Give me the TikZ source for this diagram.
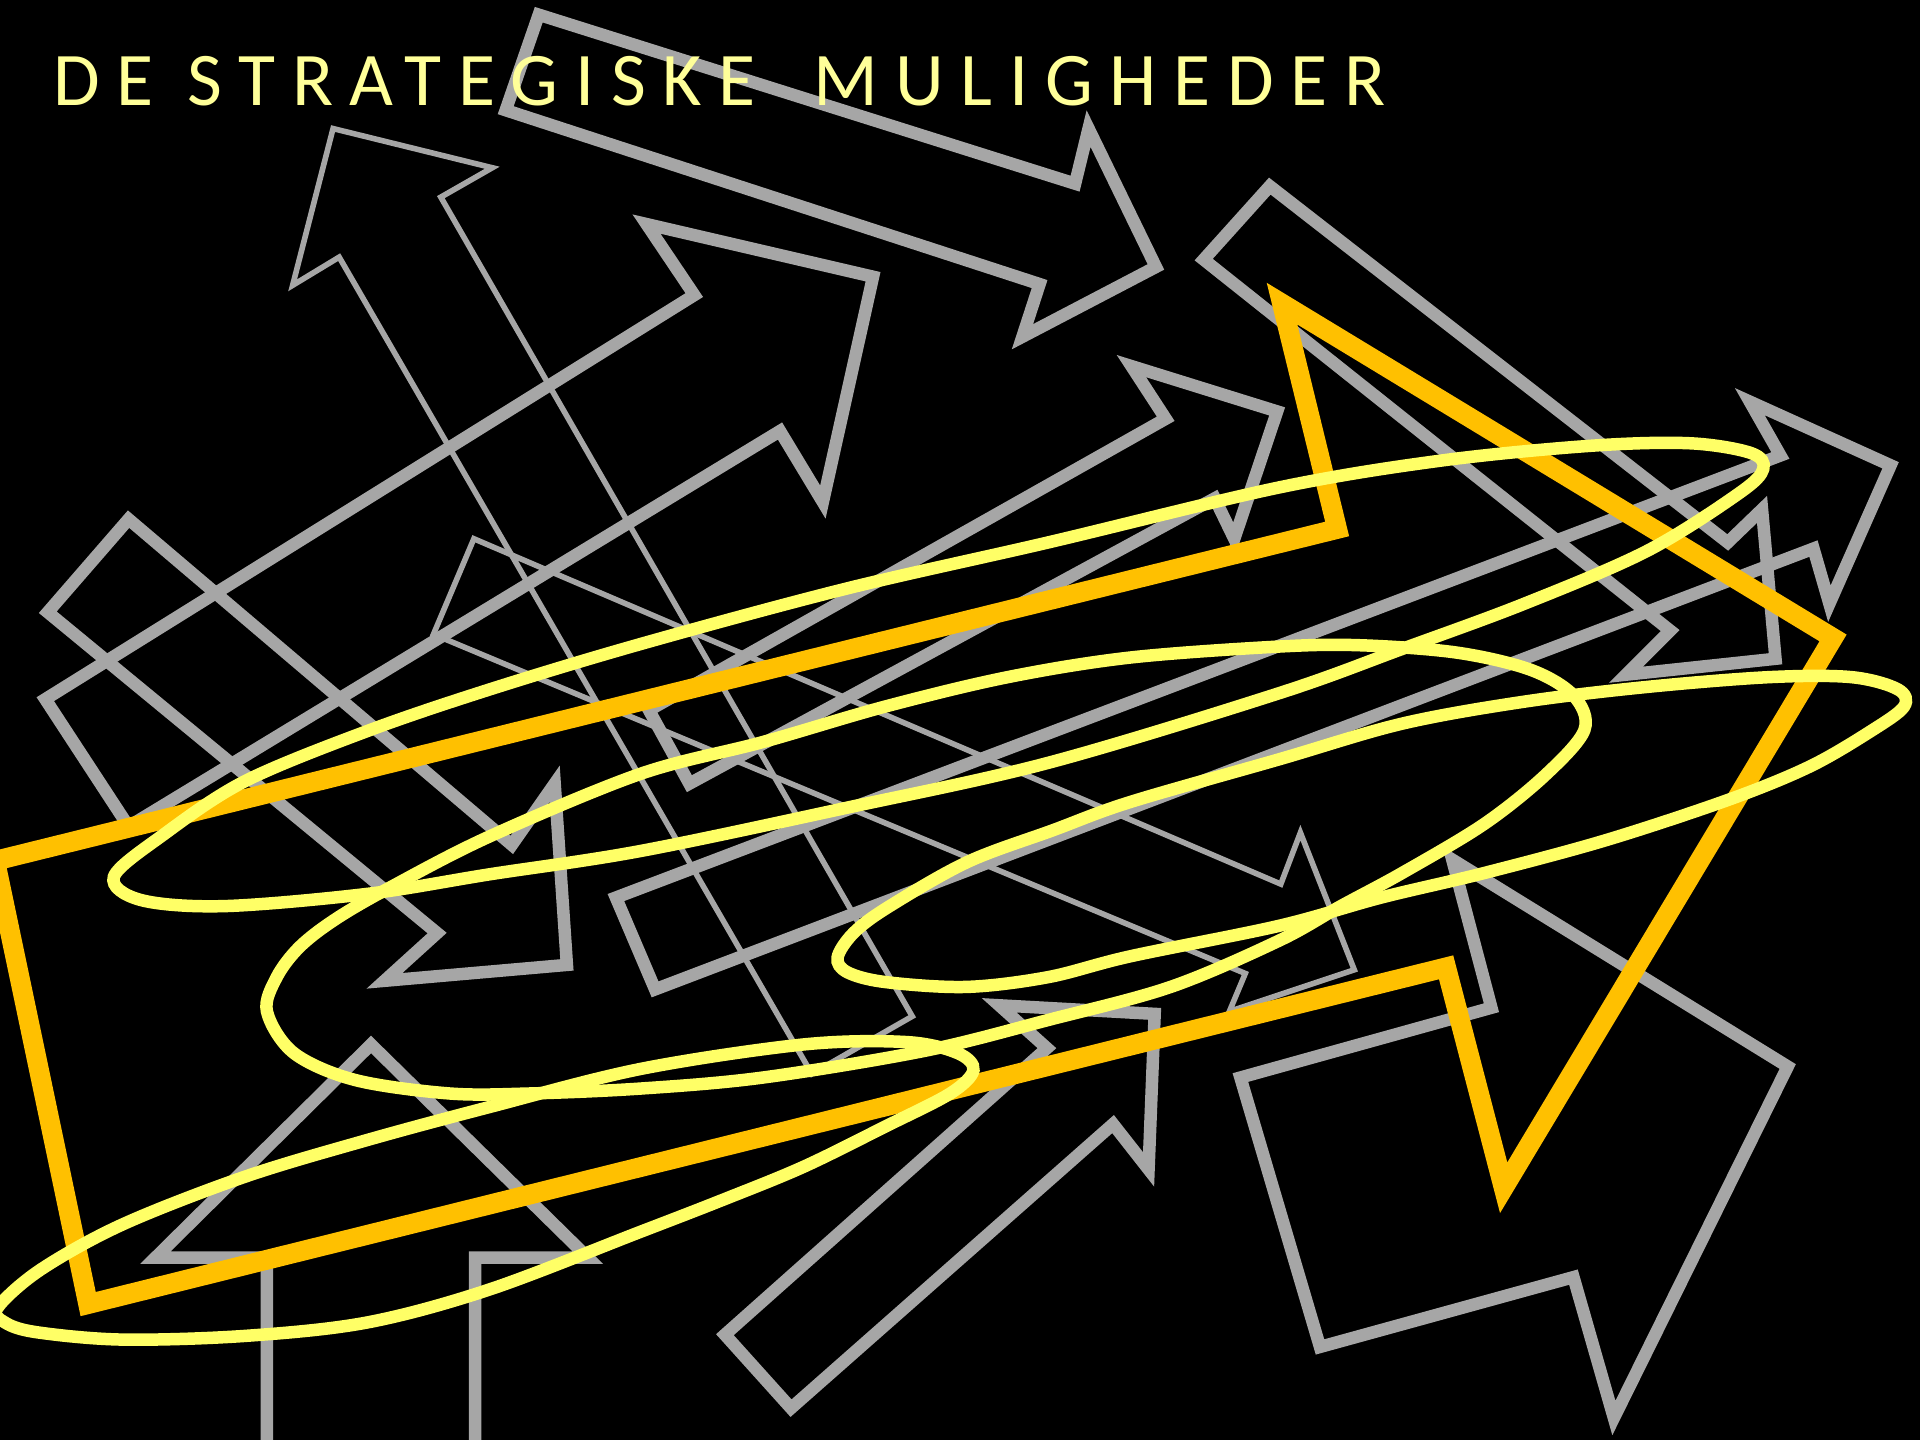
\documentclass[tikz,border=0pt]{standalone}
\usepackage{fontspec}
\newfontfamily\titlefont{Carlito}[LetterSpace=22]
\definecolor{arrowgray}{HTML}{A6A6A6}
\definecolor{bigorange}{HTML}{FFC000}
\definecolor{scribble}{HTML}{FFFF66}
\definecolor{titleyellow}{HTML}{FFFF99}

\begin{document}
\begin{tikzpicture}[x=0.01cm, y=-0.01cm,
    grayarrow/.style={draw=arrowgray, line width=2.9pt, line join=miter},
    thinarrow/.style={draw=arrowgray, line width=1.3pt, line join=miter},
    bigarrow/.style={draw=bigorange, line width=4.6pt, line join=miter},
    scribbleline/.style={draw=scribble, line width=2.9pt},
    heading/.style={anchor=base west, inner sep=0pt, text=titleyellow, font=\titlefont\fontsize{17.6pt}{20pt}\selectfont}
]
    % Background
    \fill[black] (0,0) rectangle (1568,1176);
    \clip (0,0) rectangle (1568,1176);

    % Grey arrows
    \draw[grayarrow] (440,12) -- (878,150) -- (889,105) -- (944,218) -- (835,275) -- (849,232) -- (413,90) -- cycle;
    \draw[thinarrow] (272,105) -- (402,137) -- (360,161) -- (745,830) -- (663,877) -- (277,210) -- (239,233) -- cycle;
    \draw[grayarrow] (713,226) -- (528,183) -- (567,241) -- (37,571) -- (105,675) -- (637,352) -- (672,410) -- cycle;
    \draw[grayarrow] (105,424) -- (418,690) -- (453,640) -- (463,788) -- (314,801) -- (357,762) -- (39,500) -- cycle;
    \draw[thinarrow] (387,440) -- (1046,722) -- (1062,680) -- (1106,792) -- (1004,826) -- (1017,795) -- (354,518) -- cycle;
    \draw[grayarrow] (924,299) -- (1043,336) -- (1008,440) -- (992,407) -- (563,640) -- (530,580) -- (952,342) -- cycle;
    \draw[grayarrow] (1544,380) -- (1429,328) -- (1454,372) -- (503,733) -- (535,808) -- (1481,448) -- (1494,493) -- cycle;
    \draw[grayarrow] (1037,152) -- (1411,443) -- (1439,416) -- (1450,538) -- (1328,551) -- (1364,515) -- (983,212) -- cycle;
    \draw[grayarrow] (218,1200) -- (218,1027) -- (127,1027) -- (303,853) -- (480,1027) -- (388,1027) -- (388,1200);
    \draw[grayarrow] (816,821) -- (943,828) -- (938,955) -- (909,918) -- (646,1150) -- (592,1090) -- (855,856) -- cycle;
    \draw[grayarrow] (1186,702) -- (1460,871) -- (1318,1158) -- (1285,1043) -- (1078,1100) -- (1013,880) -- (1218,823) -- cycle;

    % Orange arrow
    \draw[bigarrow] (-4,703) -- (1092,432) -- (1047,248) -- (1497,521) -- (1228,970) -- (1181,790) -- (72,1065) -- cycle;

    % Yellow scribble loops
    \draw[scribbleline] plot[smooth cycle, tension=0.55] coordinates {
        (93,716) (133,682) (200,638) (300,597) (400,563) (523,526) (690,481) (856,443)
        (1045,398) (1178,376) (1300,364) (1380,362) (1430,370) (1440,383) (1420,403)
        (1345,450) (1245,493) (1145,530) (1045,566) (856,623) (690,660) (523,695)
        (400,714) (300,730) (183,740) (115,735)};
    \draw[scribbleline] plot[smooth cycle, tension=0.55] coordinates {
        (218,826) (226,798) (245,773) (275,750) (320,724) (400,683) (523,632) (623,606)
        (723,577) (823,553) (923,537) (1045,528) (1112,527) (1190,533) (1250,547)
        (1285,568) (1294,596) (1262,633) (1212,673) (1145,713) (1095,740) (1045,768)
        (956,806) (856,833) (756,858) (623,880) (523,889) (433,893) (367,893) (290,882)
        (240,860)};
    \draw[scribbleline] plot[smooth cycle, tension=0.55] coordinates {
        (684,782) (697,762) (725,741) (790,704) (860,678) (923,655) (1045,620) (1145,591)
        (1245,573) (1345,561) (1445,553) (1512,553) (1550,563) (1555,577) (1528,597)
        (1478,626) (1412,653) (1312,686) (1212,713) (1128,733) (1045,756) (923,781)
        (856,798) (789,806) (723,802) (692,794)};
    \draw[scribbleline] plot[smooth cycle, tension=0.55] coordinates {
        (-2,1068) (33,1037) (100,1000) (200,961) (300,931) (400,904) (523,873) (656,853)
        (740,851) (782,860) (795,874) (776,893) (723,920) (656,953) (590,980) (523,1006)
        (400,1053) (300,1080) (200,1091) (100,1094) (30,1088) (4,1080)};

    % Title
    \node[heading] (title) at (43,86) {DE STRATEGISKE\hspace{0.2cm} MULIGHEDER};
\end{tikzpicture}
\end{document}
